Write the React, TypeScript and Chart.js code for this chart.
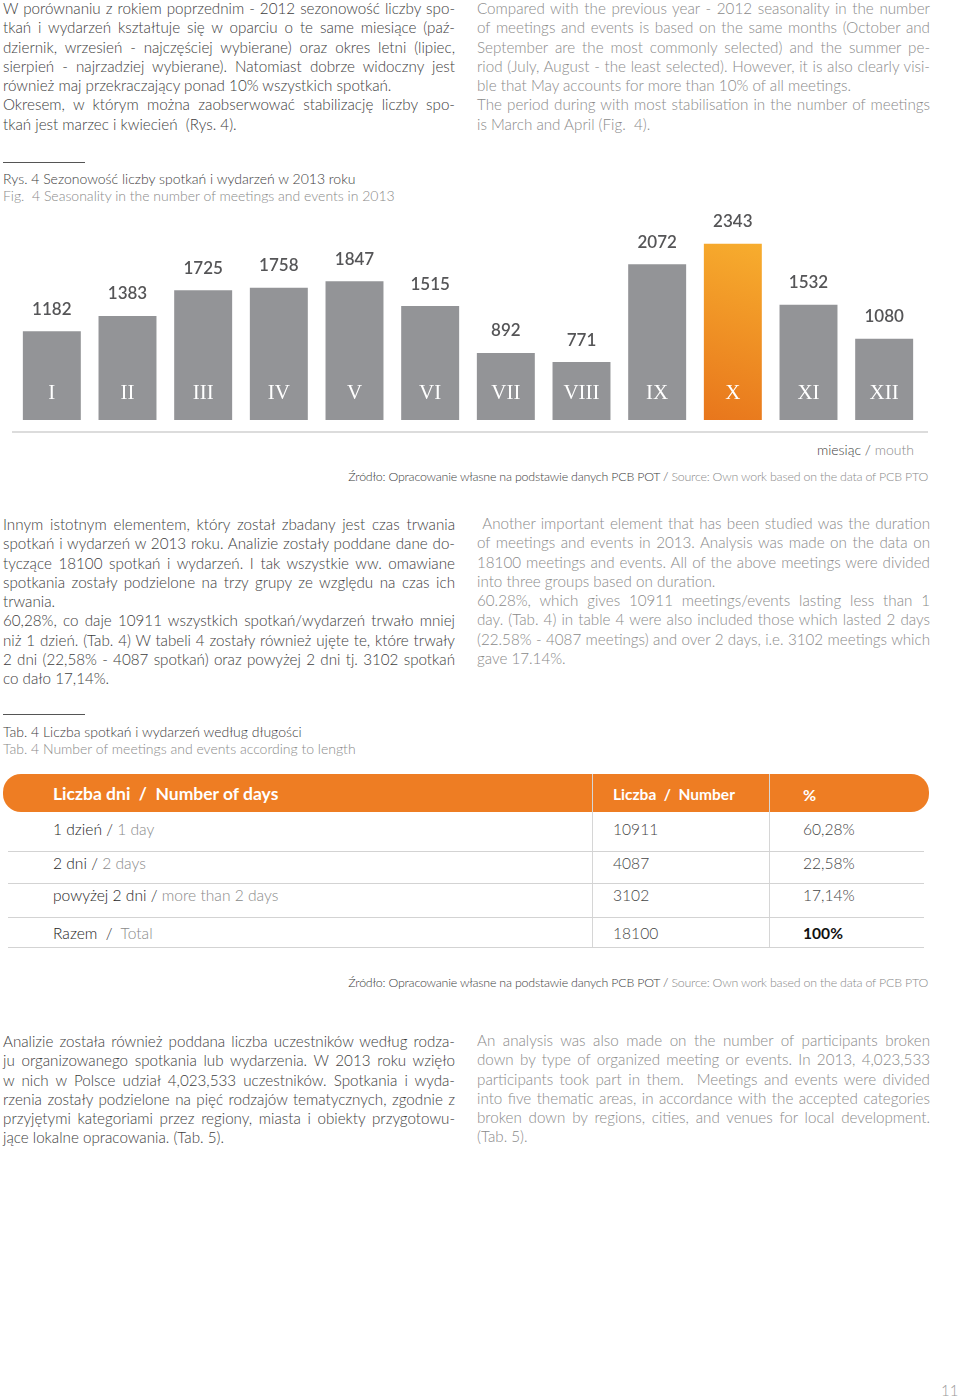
import React, { useEffect, useRef } from "react";
import { Chart, registerables } from "chart.js";

Chart.register(...registerables);

// ---- Chart data ----
const months = ["I", "II", "III", "IV", "V", "VI", "VII", "VIII", "IX", "X", "XI", "XII"];
const meetings = [1182, 1383, 1725, 1758, 1847, 1515, 892, 771, 2072, 2343, 1532, 1080];
const highlightMonth = "X";

// ---- Table data ----
const daysPl = ["1 dzień", "2 dni", "powyżej 2 dni", "Razem"];
const daysEn = ["1 day", "2 days", "more than 2 days", "Total"];
const counts = ["10911", "4087", "3102", "18100"];
const shares = ["60,28%", "22,58%", "17,14%", "100%"];

const PL = "#3d3d3d";
const EN = "#8a8a8a";
const FONT = "Lato, 'Open Sans', sans-serif";

type Line = [string, boolean];

const topLeft: Line[] = [
  ["W porównaniu z rokiem poprzednim - 2012 sezonowość liczby spo-", true],
  ["tkań i wydarzeń kształtuje się w oparciu o te same miesiące (paź-", true],
  ["dziernik, wrzesień - najczęściej wybierane) oraz okres letni (lipiec,", true],
  ["sierpień - najrzadziej wybierane). Natomiast dobrze widoczny jest", true],
  ["również maj przekraczający ponad 10% wszystkich spotkań.", false],
  ["Okresem, w którym można zaobserwować stabilizację liczby spo-", true],
  ["tkań jest marzec i kwiecień  (Rys. 4).", false],
];
const topRight: Line[] = [
  ["Compared with the previous year - 2012 seasonality in the number", true],
  ["of meetings and events is based on the same months (October and", true],
  ["September are the most commonly selected) and the summer pe-", true],
  ["riod (July, August - the least selected). However, it is also clearly visi-", true],
  ["ble that May accounts for more than 10% of all meetings.", false],
  ["The period during with most stabilisation in the number of meetings", true],
  ["is March and April (Fig.  4).", false],
];
const midLeft: Line[] = [
  ["Innym istotnym elementem, który został zbadany jest czas trwania", true],
  ["spotkań i wydarzeń w 2013 roku. Analizie zostały poddane dane do-", true],
  ["tyczące 18100 spotkań i wydarzeń. I tak wszystkie ww. omawiane", true],
  ["spotkania zostały podzielone na trzy grupy ze względu na czas ich", true],
  ["trwania.", false],
  ["60,28%, co daje 10911 wszystkich spotkań/wydarzeń trwało mniej", true],
  ["niż 1 dzień. (Tab. 4) W tabeli 4 zostały również ujęte te, które trwały", true],
  ["2 dni (22,58% - 4087 spotkań) oraz powyżej 2 dni tj. 3102 spotkań", true],
  ["co dało 17,14%.", false],
];
const midRight: Line[] = [
  [" Another important element that has been studied was the duration", true],
  ["of meetings and events in 2013. Analysis was made on the data on", true],
  ["18100 meetings and events. All of the above meetings were divided", true],
  ["into three groups based on duration.", false],
  ["60.28%, which gives 10911 meetings/events lasting less than 1", true],
  ["day. (Tab. 4) in table 4 were also included those which lasted 2 days", true],
  ["(22.58% - 4087 meetings) and over 2 days, i.e. 3102 meetings which", true],
  ["gave 17.14%.", false],
];
const botLeft: Line[] = [
  ["Analizie została również poddana liczba uczestników według rodza-", true],
  ["ju organizowanego spotkania lub wydarzenia. W 2013 roku wzięło", true],
  ["w nich w Polsce udział 4,023,533 uczestników. Spotkania i wyda-", true],
  ["rzenia zostały podzielone na pięć rodzajów tematycznych, zgodnie z", true],
  ["przyjętymi kategoriami przez regiony, miasta i obiekty przygotowu-", true],
  ["jące lokalne opracowania. (Tab. 5).", false],
];
const botRight: Line[] = [
  ["An analysis was also made on the number of participants broken", true],
  ["down by type of organized meeting or events. In 2013, 4,023,533", true],
  ["participants took part in them.  Meetings and events were divided", true],
  ["into five thematic areas, in accordance with the accepted categories", true],
  ["broken down by regions, cities, and venues for local development.", true],
  ["(Tab. 5).", false],
];

function Para({ lines, x, w, y0, color }: { lines: Line[]; x: number; w: number; y0: number; color: string }) {
  return (
    <>
      {lines.map(([t, j], i) => (
        <div
          key={i}
          style={{
            position: "absolute",
            left: x,
            width: w,
            top: y0 + i * 19.25 - 10,
            height: 20,
            lineHeight: "20px",
            fontSize: 15.2,
            fontWeight: 300,
            fontFamily: FONT,
            color,
            textAlign: j ? "justify" : "left",
            textAlignLast: j ? "justify" : "left",
            whiteSpace: "pre-wrap",
          } as React.CSSProperties}
        >
          {t}
        </div>
      ))}
    </>
  );
}

function abs(left: number, top: number, extra: React.CSSProperties = {}): React.CSSProperties {
  return { position: "absolute", left, top, fontFamily: FONT, whiteSpace: "pre", ...extra };
}

function BarChart() {
  const ref = useRef<HTMLCanvasElement | null>(null);
  useEffect(() => {
    if (!ref.current) return;
    const overlay = {
      id: "overlay",
      afterDatasetsDraw(chart: any) {
        const ctx = chart.ctx;
        const meta = chart.getDatasetMeta(0);
        ctx.save();
        meta.data.forEach((bar: any, i: number) => {
          ctx.textAlign = "center";
          ctx.textBaseline = "middle";
          ctx.fillStyle = "#555557";
          ctx.font = "600 17px Lato, sans-serif";
          ctx.fillText(String(meetings[i]), bar.x, bar.y - 22);
          ctx.fillStyle = "#ffffff";
          ctx.font = "21px 'Liberation Serif', 'DejaVu Serif', serif";
          ctx.fillText(months[i], bar.x, chart.chartArea.bottom - 27);
        });
        const a = chart.chartArea;
        ctx.strokeStyle = "#dcdcdc";
        ctx.lineWidth = 2;
        ctx.beginPath();
        ctx.moveTo(12, a.bottom + 12);
        ctx.lineTo(928, a.bottom + 12);
        ctx.stroke();
        ctx.restore();
      },
    };
    const chart = new Chart(ref.current, {
      type: "bar",
      data: {
        labels: months,
        datasets: [
          {
            data: meetings,
            backgroundColor: (c: any) => {
              if (months[c.dataIndex] !== highlightMonth) return "#939497";
              const ch = c.chart;
              const area = ch.chartArea;
              const xs = ch.scales && ch.scales.x;
              const ys = ch.scales && ch.scales.y;
              if (!area || !xs || !ys) return "#ee8a22";
              const cx = xs.getPixelForValue(c.dataIndex);
              const top = ys.getPixelForValue(meetings[c.dataIndex]);
              if (![cx, top, area.bottom].every((v: number) => Number.isFinite(v))) return "#ee8a22";
              const g = ch.ctx.createLinearGradient(cx - 29, area.bottom, cx + 29, top);
              g.addColorStop(0, "#e8761c");
              g.addColorStop(1, "#f7ad2e");
              return g;
            },
            borderWidth: 0,
            categoryPercentage: 1,
            barPercentage: 0.766,
          },
        ],
      },
      options: {
        animation: false,
        responsive: false,
        devicePixelRatio: 1,
        layout: { padding: { left: 14, right: 38, top: 20, bottom: 20 } },
        plugins: { legend: { display: false }, tooltip: { enabled: false } },
        scales: {
          x: { display: false },
          y: { display: false, min: 0, max: 2660 },
        },
      },
      plugins: [overlay],
    } as any);
    return () => chart.destroy();
  }, []);
  return <canvas ref={ref} width={960} height={240} style={{ position: "absolute", left: 0, top: 200, width: 960, height: 240 }} />;
}

export default function App() {
  const rowCenters = [829, 863, 895, 933];
  const rowLines = [851, 883, 917, 947];
  return (
    <div style={{ position: "absolute", left: 0, top: 0, width: 960, height: 1399, background: "#fff", overflow: "hidden" }}>
      <Para lines={topLeft} x={3} w={452} y0={8} color={PL} />
      <Para lines={topRight} x={477} w={453} y0={8} color={EN} />

      {/* figure caption */}
      <div style={{ position: "absolute", left: 3, top: 162, width: 82, height: 1, background: "#555" }} />
      <div style={abs(3, 171, { fontSize: 14, lineHeight: "16px", color: PL, fontWeight: 300 })}>Rys. 4 Sezonowość liczby spotkań i wydarzeń w 2013 roku</div>
      <div style={abs(3, 188, { fontSize: 14, lineHeight: "16px", color: EN, fontWeight: 300 })}>Fig.  4 Seasonality in the number of meetings and events in 2013</div>

      <BarChart />

      <div style={abs(0, 441, { width: 914, textAlign: "right", fontSize: 14, lineHeight: "18px", fontWeight: 300 })}>
        <span style={{ color: PL }}>miesiąc / </span>
        <span style={{ color: EN }}>mouth</span>
      </div>
      <div style={abs(0, 469, { width: 928, textAlign: "right", fontSize: 12.4, lineHeight: "16px", fontWeight: 300, letterSpacing: -0.2 })}>
        <span style={{ color: PL }}>Źródło: Opracowanie własne na podstawie danych PCB POT / </span>
        <span style={{ color: EN }}>Source: Own work based on the data of PCB PTO</span>
      </div>

      <Para lines={midLeft} x={3} w={452} y0={524} color={PL} />
      <Para lines={midRight} x={477} w={453} y0={523} color={EN} />

      {/* table caption */}
      <div style={{ position: "absolute", left: 3, top: 714, width: 82, height: 1, background: "#555" }} />
      <div style={abs(3, 724, { fontSize: 14, lineHeight: "16px", color: PL, fontWeight: 300 })}>Tab. 4 Liczba spotkań i wydarzeń według długości</div>
      <div style={abs(3, 741, { fontSize: 14, lineHeight: "16px", color: EN, fontWeight: 300 })}>Tab. 4 Number of meetings and events according to length</div>

      {/* table */}
      <div style={{ position: "absolute", left: 3, top: 774, width: 926, height: 38, background: "#ee7d23", borderRadius: 18 }} />
      <div style={{ position: "absolute", left: 592, top: 774, width: 1, height: 173, background: "#d6d6d6" }} />
      <div style={{ position: "absolute", left: 769, top: 774, width: 1, height: 173, background: "#d6d6d6" }} />
      <div style={abs(53, 784, { fontSize: 17.5, lineHeight: "20px", color: "#fff", fontWeight: 700 })}>{"Liczba dni  /  Number of days"}</div>
      <div style={abs(613, 784, { fontSize: 15.5, lineHeight: "20px", color: "#fff", fontWeight: 700 })}>{"Liczba  /  Number"}</div>
      <div style={abs(803, 785, { fontSize: 16, lineHeight: "20px", color: "#fff", fontWeight: 700 })}>%</div>
      {daysPl.map((d, i) => (
        <React.Fragment key={i}>
          <div style={abs(53, rowCenters[i] - 10, { fontSize: 15.6, lineHeight: "20px", fontWeight: 300 })}>
            <span style={{ color: "#1e1e1e", fontWeight: 300 }}>{d}</span>
            <span style={{ color: "#333" }}>{i === 3 ? "  /  " : " / "}</span>
            <span style={{ color: EN, fontWeight: 300 }}>{daysEn[i]}</span>
          </div>
          <div style={abs(613, rowCenters[i] - 10, { fontSize: 15.6, lineHeight: "20px", fontWeight: 300, color: "#444" })}>{counts[i]}</div>
          <div style={abs(803, rowCenters[i] - 10, { fontSize: 15.6, lineHeight: "20px", fontWeight: i === 3 ? 700 : 300, color: i === 3 ? "#111" : "#444" })}>{shares[i]}</div>
          <div style={{ position: "absolute", left: 8, top: rowLines[i], width: 916, height: 1, background: "#d3d3d3" }} />
        </React.Fragment>
      ))}

      <div style={abs(0, 975, { width: 928, textAlign: "right", fontSize: 12.4, lineHeight: "16px", fontWeight: 300, letterSpacing: -0.2 })}>
        <span style={{ color: PL }}>Źródło: Opracowanie własne na podstawie danych PCB POT / </span>
        <span style={{ color: EN }}>Source: Own work based on the data of PCB PTO</span>
      </div>

      <Para lines={botLeft} x={3} w={452} y0={1041} color={PL} />
      <Para lines={botRight} x={477} w={453} y0={1040} color={EN} />

      <div style={abs(941, 1381, { fontSize: 15, lineHeight: "18px", color: "#999", fontWeight: 300 })}>11</div>
    </div>
  );
}
